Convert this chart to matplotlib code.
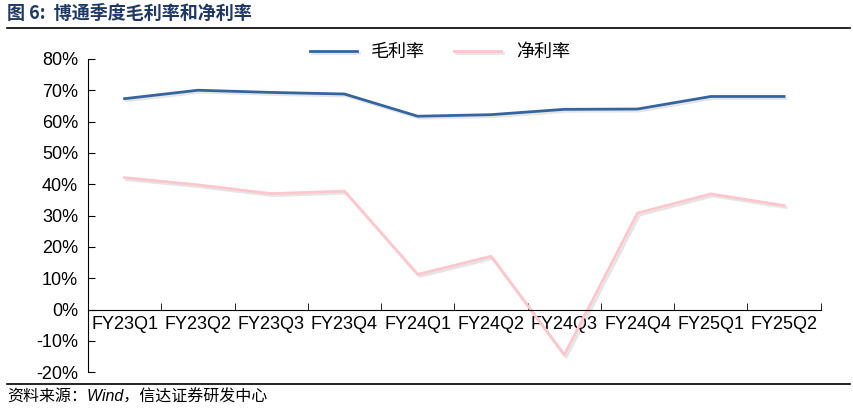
import matplotlib.pyplot as plt
import matplotlib.patheffects as pe
from matplotlib.ticker import FuncFormatter

plt.rcParams['font.family'] = ['Liberation Sans', 'Noto Sans CJK SC', 'DejaVu Sans']

quarters = ['FY23Q1', 'FY23Q2', 'FY23Q3', 'FY23Q4', 'FY24Q1',
            'FY24Q2', 'FY24Q3', 'FY24Q4', 'FY25Q1', 'FY25Q2']
gross_margin = [67.3, 70.0, 69.3, 68.8, 61.7, 62.2, 63.9, 64.0, 68.0, 68.0]
net_margin = [42.1, 39.8, 37.0, 37.8, 11.2, 17.0, -14.5, 30.8, 36.9, 33.2]

fig = plt.figure(figsize=(8.54, 4.09), dpi=100)
ax = fig.add_axes([0.103, 0.090, 0.858, 0.766])

shadow = [pe.SimpleLineShadow(offset=(1.5, -1.5), shadow_color='gray', alpha=0.2), pe.Normal()]
x = range(len(quarters))
ax.plot(x, gross_margin, color='#34659E', lw=2.0, label='毛利率', path_effects=shadow)
ax.plot(x, net_margin, color='#FFC6CC', lw=2.0, label='净利率', path_effects=shadow)

ax.set_xlim(-0.5, len(quarters) - 0.5)
ax.set_ylim(-20, 80)
ax.set_yticks(range(-20, 81, 10))
ax.yaxis.set_major_formatter(FuncFormatter(lambda v, p: f'{int(v)}%'))
ax.tick_params(axis='y', direction='in', length=5, labelsize=13, pad=7)

ax.spines['bottom'].set_position(('data', 0))
ax.spines['top'].set_visible(False)
ax.spines['right'].set_visible(False)
ax.set_xticks(list(x))
ax.set_xticklabels(quarters, fontsize=13)
ax.set_xticks([i - 0.5 for i in range(len(quarters) + 1)], minor=True)
ax.tick_params(axis='x', which='major', length=0, pad=5)
ax.tick_params(axis='x', which='minor', direction='in', length=5)

fig.legend(loc='center', bbox_to_anchor=(0.515, 0.872), ncol=2, frameon=False,
           handlelength=2.6, columnspacing=1.6,
           prop={'family': ['Noto Sans CJK SC'], 'size': 13})

fig.text(0.008, 0.966, '图 6:  博通季度毛利率和净利率', fontsize=13, fontweight='bold',
         color='#1F3864', family=['Noto Sans CJK SC'], va='center')
fig.add_artist(plt.Line2D([0.008, 0.995], [0.932, 0.932], color='black', lw=1.2))
fig.add_artist(plt.Line2D([0.008, 0.995], [0.061, 0.061], color='black', lw=1.2))
fig.text(0.008, 0.030, '资料来源：Wind，信达证券研发中心', fontsize=11.5, style='italic',
         family=['Liberation Sans', 'Noto Sans CJK SC'], va='center')

fig.savefig('out.png', dpi=100)
